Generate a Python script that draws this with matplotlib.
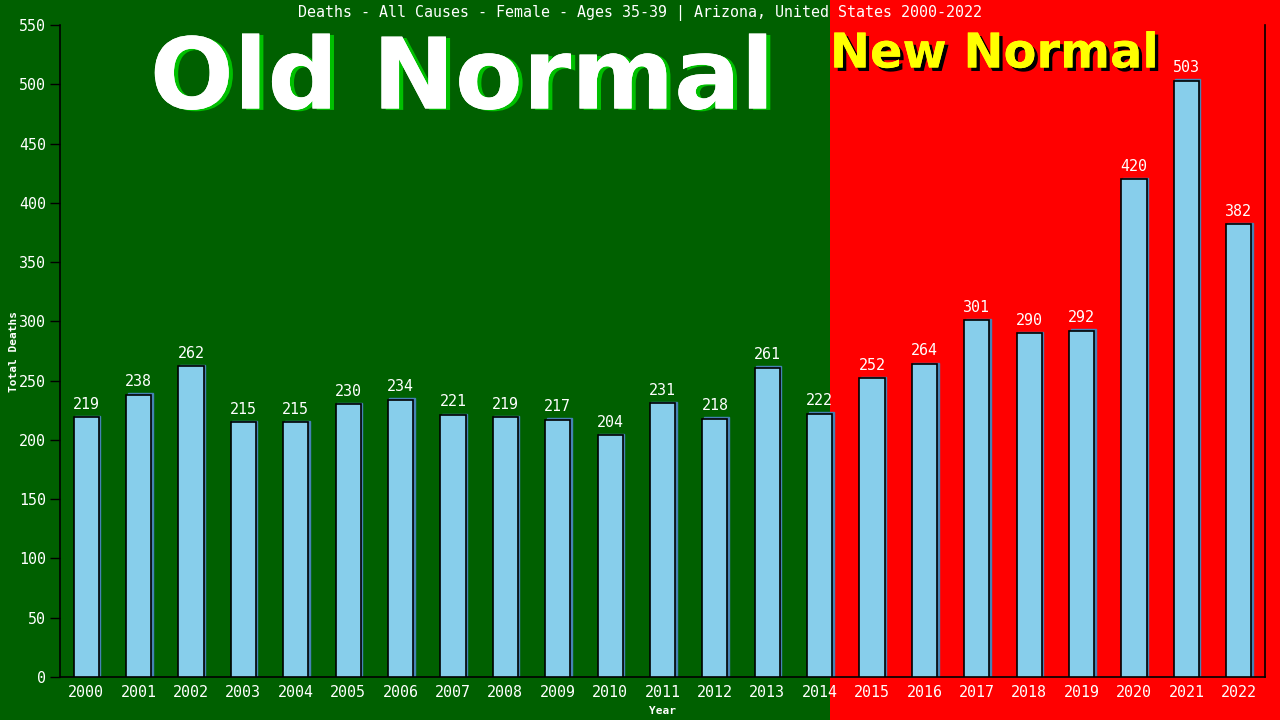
import matplotlib
matplotlib.use("Agg")
import matplotlib.pyplot as plt
import matplotlib.transforms as mtransforms
from matplotlib.patches import Rectangle
import matplotlib.patheffects as pe

years = [str(y) for y in range(2000, 2023)]
deaths = [219, 238, 262, 215, 215, 230, 234, 221, 219, 217, 204, 231, 218, 261, 222,
          252, 264, 301, 290, 292, 420, 503, 382]
yticks = list(range(0, 551, 50))

title = "Deaths - All Causes - Female - Ages 35-39 | Arizona, United States 2000-2022"
mono = "DejaVu Sans Mono"

fig = plt.figure(figsize=(12.8, 7.2), dpi=100)
fig.patch.set_facecolor("#006000")

# background axes for the green / red halves
bg = fig.add_axes([0, 0, 1, 1], zorder=-10)
bg.set_xlim(0, 1280)
bg.set_ylim(0, 720)
bg.axis("off")
bg.add_patch(Rectangle((0, 0), 830, 720, facecolor="#006000", edgecolor="none"))
bg.add_patch(Rectangle((830, 0), 450, 720, facecolor="#ff0000", edgecolor="none"))

ax = fig.add_axes([60 / 1280, 43 / 720, 1205 / 1280, 652 / 720], zorder=1)
ax.set_facecolor("none")
ax.patch.set_alpha(0)

x = list(range(len(years)))
shadow_tf = ax.transData + mtransforms.ScaledTranslation(1.5 / 100, 1.5 / 100, fig.dpi_scale_trans)
ax.bar(x, deaths, width=0.48, color="#4682B4", edgecolor="#4682B4", linewidth=1,
       transform=shadow_tf, zorder=2)
ax.bar(x, deaths, width=0.48, color="#87CEEB", edgecolor="black", linewidth=1.2, zorder=3)

for xi, v in zip(x, deaths):
    ax.annotate(str(v), (xi, v), xytext=(0, 4), textcoords="offset points", ha="center",
                va="bottom", color="white", fontsize=10.8, family=mono, zorder=4)

ax.set_xlim(-0.5, 22.5)
ax.set_ylim(0, 550)
ax.set_yticks(yticks)
ax.set_xticks(x)
ax.set_xticklabels(years)
ax.tick_params(axis="y", colors="black", labelcolor="white", length=7, width=1,
               labelsize=10.8, direction="out", pad=3)
ax.tick_params(axis="x", length=0, labelcolor="white", labelsize=10.8, pad=6)
for lab in ax.get_xticklabels() + ax.get_yticklabels():
    lab.set_family(mono)

ax.spines["top"].set_visible(False)
for s in ["left", "bottom", "right"]:
    ax.spines[s].set_color("black")
    ax.spines[s].set_linewidth(1.2)

ax.set_ylabel("Total Deaths", color="white", fontsize=8, family=mono, fontweight="bold", labelpad=0)
ax.set_xlabel("Year", color="white", fontsize=8, family=mono, fontweight="bold", labelpad=4)

fig.text(640 / 1280, 1 - 13 / 720, title, ha="center", va="center", color="white",
         fontsize=10.8, family=mono)

fig.text(462 / 1280, 1 - 81 / 720, "Old Normal", ha="center", va="center", color="white",
         fontsize=71, fontweight="bold", family="DejaVu Sans",
         path_effects=[pe.withSimplePatchShadow(offset=(3, -1), shadow_rgbFace="#00c000", alpha=1),
                       pe.Normal()], zorder=5)
fig.text(994 / 1280, 1 - 54 / 720, "New Normal", ha="center", va="center", color="#ffff00",
         fontsize=34.5, fontweight="bold", family="DejaVu Sans",
         path_effects=[pe.withSimplePatchShadow(offset=(2.5, -2.5), shadow_rgbFace="black", alpha=1),
                       pe.Normal()], zorder=5)

fig.savefig("out.png", dpi=100, facecolor=fig.get_facecolor())
